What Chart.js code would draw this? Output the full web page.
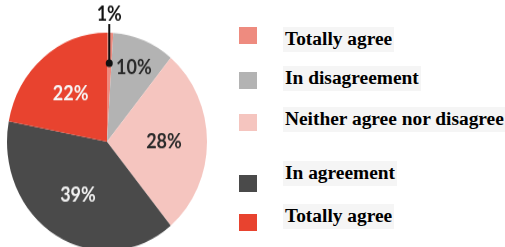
<!DOCTYPE html>
<html>
<head>
<meta charset="utf-8">
<script src="https://cdn.jsdelivr.net/npm/chart.js@4"></script>
<style>
  html, body { margin:0; padding:0; background:#fff; }
  #wrap { position:relative; width:505px; height:247px; overflow:hidden; }
  #pie { position:absolute; left:0; top:0; transform:scaleY(1.09); transform-origin:0 0; }
  .sw { position:absolute; left:239px; width:18px; height:17px; }
  .lb { position:absolute; left:283px; font:bold 19.4px "Liberation Serif", "Times New Roman", serif;
        line-height:20px; color:#000; background:#f5f5f5; padding:2px 2px 3px 2px; white-space:nowrap; }
</style>
</head>
<body>
<div id="wrap">
  <canvas id="pie" width="220" height="240"></canvas>
</div>
<script>
  // datos
  const categories = ["Totally agree", "In disagreement", "Neither agree nor disagree", "In agreement", "Totally agree"];
  const shares     = [1, 10, 28, 39, 22];
  const colors     = ["#ee8b7f", "#b3b3b3", "#f5c5bf", "#4a4a4a", "#e8432f"];
  const labelInk   = ["#111111", "#2a2a2a", "#2a2a2a", "#f2f2f2", "#f7f7f7"];

  // leyenda (filas no equidistantes como en el original)
  const swatchTops = [27, 72, 114, 175, 214];
  const textTops   = [27, 66, 107, 161, 204];
  const wrap = document.getElementById("wrap");
  categories.forEach((c,i)=>{
    const sw = document.createElement("div");
    sw.className = "sw";
    sw.style.top = swatchTops[i] + "px";
    sw.style.background = colors[i];
    wrap.appendChild(sw);
    const lb = document.createElement("div");
    lb.className = "lb";
    lb.style.top = textTops[i] + "px";
    lb.textContent = c;
    wrap.appendChild(lb);
  });

  // etiquetas dentro del pastel + llamada del 1%
  const sliceLabels = {
    id: "sliceLabels",
    afterDatasetsDraw(chart) {
      const ctx = chart.ctx;
      const meta = chart.getDatasetMeta(0);
      ctx.save();
      ctx.font = "bold 18px Lato, 'Open Sans', sans-serif";
      ctx.textAlign = "center";
      ctx.textBaseline = "middle";
      meta.data.forEach((arc,i)=>{
        const p = arc.getProps(["x","y","startAngle","endAngle","outerRadius"], true);
        const mid = (p.startAngle + p.endAngle) / 2;
        const txt = shares[i] + "%";
        if (shares[i] < 5) {
          const dx = p.x + Math.cos(mid) * p.outerRadius * 0.72;
          const dy = p.y + Math.sin(mid) * p.outerRadius * 0.72;
          const top = p.y - p.outerRadius - 8;
          ctx.strokeStyle = "#111";
          ctx.lineWidth = 2;
          ctx.beginPath();
          ctx.moveTo(dx, dy);
          ctx.lineTo(dx, top);
          ctx.stroke();
          ctx.fillStyle = "#111";
          ctx.beginPath();
          ctx.arc(dx, dy, 3.5, 0, Math.PI*2);
          ctx.fill();
          ctx.fillText(txt, dx, top - 9);
          return;
        }
        const f = shares[i] < 15 ? 0.73 : 0.57;
        ctx.fillStyle = labelInk[i];
        ctx.fillText(txt, p.x + Math.cos(mid)*p.outerRadius*f, p.y + Math.sin(mid)*p.outerRadius*f);
      });
      ctx.restore();
    }
  };

  new Chart(document.getElementById("pie"), {
    type: "pie",
    data: {
      labels: categories,
      datasets: [{ data: shares, backgroundColor: colors, borderWidth: 0 }]
    },
    options: {
      responsive: false,
      devicePixelRatio: 1,
      animation: false,
      layout: { padding: { left:7, right:13, top:30, bottom:10 } },
      plugins: { legend: { display:false }, tooltip: { enabled:false } }
    },
    plugins: [sliceLabels]
  });
</script>
</body>
</html>
